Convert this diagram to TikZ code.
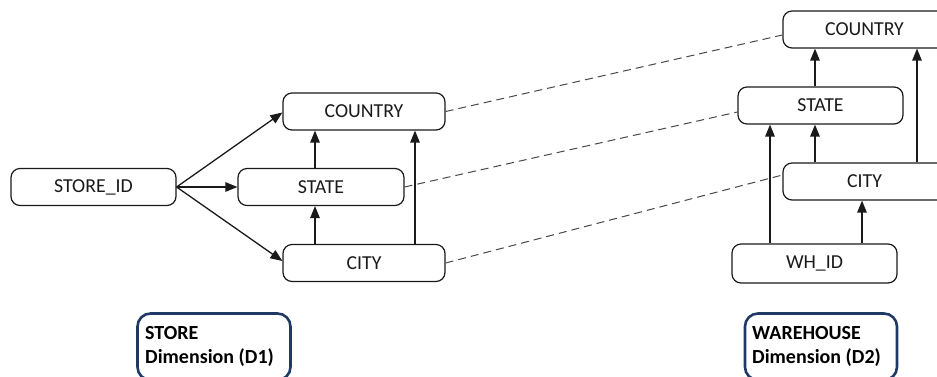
\documentclass[tikz,border=0pt]{standalone}
\usepackage{fontspec}
\setmainfont{Carlito}
\usetikzlibrary{arrows.meta,shapes.misc}
\definecolor{navy}{HTML}{1F3864}
\definecolor{ink}{HTML}{1A1A1A}
\tikzset{
  box/.style={draw=ink, line width=1.2pt, rounded corners=9pt, minimum height=37pt,
    inner sep=0pt, font=\fontsize{19.8}{22}\selectfont, text=ink},
  arr/.style={draw=ink, line width=1.3pt, -{Triangle[length=12pt,width=9.5pt]}},
  link/.style={draw=ink!80, line width=1pt, dash pattern=on 8pt off 5pt},
  lbl/.style={draw=navy, line width=2.6pt, rounded corners=13pt},
  lbltext/.style={font=\fontsize{20}{24}\selectfont\bfseries, align=left, inner sep=0pt, anchor=north west, text=black}
}
\begin{document}
\begin{tikzpicture}[x=1pt,y=-1pt]
\useasboundingbox (0,0) rectangle (937,376);
% left dimension
\node[box, minimum width=165pt] (sid) at (93.5,187) {STORE\_ID};
\node[box, minimum width=162pt] (lco) at (364,111.5) {COUNTRY};
\node[box, minimum width=166pt] (lst) at (321,187) {STATE};
\node[box, minimum width=162pt] (lci) at (364,263) {CITY};
% right dimension
\node[box, minimum width=163pt] (rco) at (864.5,29.5) {COUNTRY};
\node[box, minimum width=165pt] (rst) at (820.5,105.5) {STATE};
\node[box, minimum width=163pt] (rci) at (864.5,181.5) {CITY};
\node[box, minimum width=165pt, minimum height=39pt] (wid) at (814.5,263.5) {WH\_ID};
% x positions of vertical arrows
\coordinate (xa) at (315,0);
\coordinate (xb) at (415,0);
\coordinate (xc) at (815,0);
\coordinate (xd) at (917,0);
\coordinate (xe) at (770,0);
\coordinate (xf) at (862,0);
% left arrows
\draw[arr] (sid.east) -- ([yshift=-1pt]lco.west);
\draw[arr] (sid.east) -- (lst.west);
\draw[arr] (sid.east) -- ([yshift=2pt]lci.west);
\draw[arr] (lst.north -| xa) -- (lco.south -| xa);
\draw[arr] (lci.north -| xa) -- (lst.south -| xa);
\draw[arr] (lci.north -| xb) -- (lco.south -| xb);
% right arrows
\draw[arr] (rst.north -| xc) -- (rco.south -| xc);
\draw[arr] (rci.north -| xc) -- (rst.south -| xc);
\draw[arr] (rci.north -| xd) -- (rco.south -| xd);
\draw[arr] (wid.north -| xe) -- (rst.south -| xe);
\draw[arr] (wid.north -| xf) -- (rci.south -| xf);
% dashed links
\draw[link] (lco.east) -- ([yshift=-5.5pt]rco.west);
\draw[link] (lst.east) -- ([yshift=-6.5pt]rst.west);
\draw[link] (lci.east) -- ([yshift=6.5pt]rci.west);
% dimension labels
\draw[lbl] (137.5,313.5) rectangle (290.5,380);
\node[lbltext] (l1) at (145,326) {STORE\\Dimension (D1)};
\draw[lbl] (745,313.5) rectangle (897,380);
\node[lbltext] (l2) at (752,326) {WAREHOUSE\\Dimension (D2)};
\end{tikzpicture}
\end{document}
